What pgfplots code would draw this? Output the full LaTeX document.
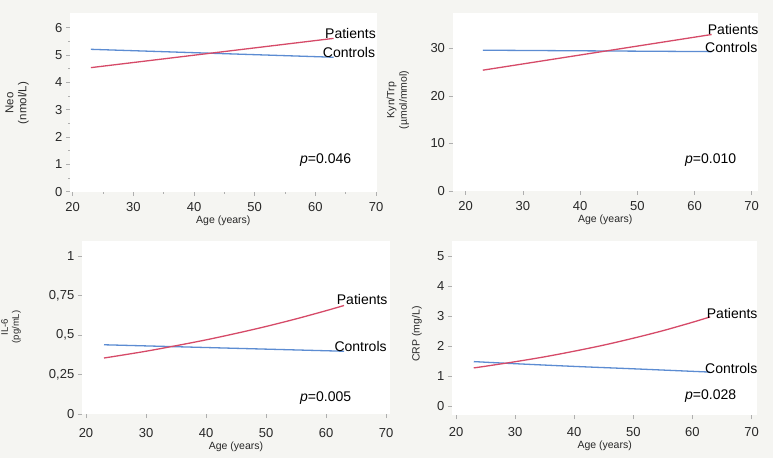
\documentclass[border=0pt]{standalone}
\usepackage{pgfplots}
\pgfplotsset{compat=1.18}
\usepackage{fontspec}
\setmainfont{Liberation Sans}

\definecolor{bgc}{RGB}{245,245,242}
\definecolor{patc}{RGB}{214,74,104}
\definecolor{conc}{RGB}{92,140,210}
\definecolor{tickc}{RGB}{175,175,175}
\definecolor{txtc}{RGB}{40,40,40}

\pgfplotsset{
  panel/.style={
    scale only axis,
    anchor=south west,
    axis background/.style={fill=white},
    axis line style={draw=none},
    tick align=outside,
    tick pos=left,
    major tick length=4pt,
    minor tick length=2pt,
    tick style={color=tickc, line width=0.7pt},
    xtick={20,30,40,50,60,70},
    ticklabel style={font=\fontsize{13}{15}\selectfont, text=txtc},
    /pgf/number format/assume math mode=true,
    xlabel={Age (years)},
    xlabel style={font=\fontsize{10.5}{12}\selectfont, text=txtc, inner sep=1pt},
    clip=false,
  },
  pat/.style={color=patc, line width=1.3pt},
  con/.style={color=conc, line width=1.3pt},
}

\begin{document}
\begin{tikzpicture}[x=1pt,y=1pt]
\fill[bgc] (0,0) rectangle (773,458);

% Neo
\begin{axis}[panel, at={(70pt,266.3pt)}, width=306.6pt, height=179pt,
  xmin=19.55, xmax=70.1, ymin=0, ymax=6.55,
  ytick={0,1,2,3,4,5,6}, minor x tick num=1, minor y tick num=1,
  xticklabel shift=3pt]
\addplot[con] coordinates {(23,5.21) (63,4.92)};
\addplot[pat] coordinates {(23,4.54) (63,5.61)};
\end{axis}

% Kyn/Trp
\begin{axis}[panel, at={(452.5pt,267pt)}, width=305.5pt, height=177.9pt,
  xmin=17.7, xmax=71.1, ymin=0, ymax=37.4,
  ytick={0,10,20,30}, xticklabel shift=3pt]
\addplot[con] coordinates {(23,29.6) (63,29.3)};
\addplot[pat] coordinates {(23,25.4) (63,32.9)};
\end{axis}

% IL-6
\begin{axis}[panel, at={(81.8pt,44pt)}, width=308.4pt, height=173pt,
  xmin=19.3, xmax=70.7, ymin=0, ymax=1.097,
  ytick={0,0.25,0.5,0.75,1}, yticklabels={0,{0,25},{0,5},{0,75},1},
  xticklabel shift=7pt]
\addplot[con] coordinates {(23,0.439) (63,0.398)};
\addplot[pat, smooth] coordinates {(23,0.355) (25,0.367) (30,0.398) (35,0.433)
  (40,0.470) (45,0.511) (50,0.555) (55,0.603) (60,0.655) (63,0.688)};
\end{axis}

% CRP
\begin{axis}[panel, at={(451.9pt,42.7pt)}, width=305.5pt, height=174.3pt,
  xmin=19.3, xmax=71.0, ymin=-0.3, ymax=5.51,
  ytick={0,1,2,3,4,5}, xticklabel shift=4.5pt]
\addplot[con, smooth] coordinates {(23,1.49) (30,1.42) (40,1.33) (50,1.25) (63,1.14)};
\addplot[pat, smooth] coordinates {(23,1.28) (25,1.336) (30,1.486) (35,1.65)
  (40,1.837) (45,2.04) (50,2.27) (55,2.52) (60,2.80) (63,2.98)};
\end{axis}

% axis titles
\begin{scope}[every node/.style={text=txtc, align=center, rotate=90, inner sep=0pt}]
\node[font=\fontsize{11.5}{13}\selectfont] at (17,355) {Neo\\(nmol/L)};
\node[font=\fontsize{10.5}{12.5}\selectfont] at (398,358) {Kyn/Trp\\(µmol/mmol)};
\node[font=\fontsize{9.5}{11}\selectfont] at (11,131) {IL-6\\(pg/mL)};
\node[font=\fontsize{10.5}{12}\selectfont] at (417,124) {CRP (mg/L)};
\end{scope}

% series labels and p values
\begin{scope}[every node/.style={anchor=west, inner sep=0pt, text=black,
    font=\fontsize{14}{16}\selectfont}]
\node at (325,425) {Patients};
\node at (322.7,406) {Controls};
\node at (707.7,428) {Patients};
\node at (705,411) {Controls};
\node at (336.7,158.3) {Patients};
\node at (334.3,111.7) {Controls};
\node at (706.7,145) {Patients};
\node at (705,90) {Controls};
\node at (300,298) {\textit{p}=0.046};
\node at (685,298) {\textit{p}=0.010};
\node at (300,60) {\textit{p}=0.005};
\node at (685,62) {\textit{p}=0.028};
\end{scope}

\pgfresetboundingbox
\path (0,0) rectangle (773,458);
\end{tikzpicture}
\end{document}
